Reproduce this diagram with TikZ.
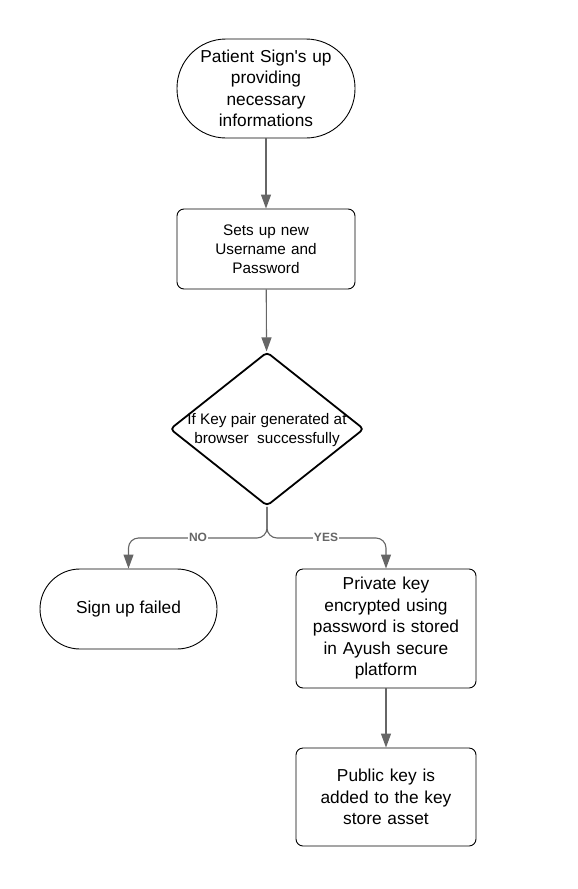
\documentclass[tikz,border=0pt]{standalone}
\usepackage{fontspec}
\setmainfont{Liberation Sans}
\usetikzlibrary{shapes.geometric,arrows.meta,calc}
\definecolor{conngray}{HTML}{666666}
\tikzset{
  box/.style={draw=black, line width=0.9pt, rounded corners=7pt, inner sep=0pt, align=center},
  stad/.style={draw=black, line width=0.9pt, inner sep=0pt, align=center},
  conn/.style={draw=conngray, line width=1.1pt, -{Triangle[width=10pt,length=14pt]}, color=conngray},
  lbl/.style={fill=white, inner sep=1pt, text=conngray, font=\fontsize{12}{14}\selectfont\bfseries},
  big/.style={font=\fontsize{17.3}{21.5}\selectfont},
  small/.style={font=\fontsize{15.3}{18.8}\selectfont}
}
\begin{document}
\begin{tikzpicture}[x=1pt,y=-1pt]
\useasboundingbox (0,0) rectangle (578,889);
\node[stad, big, rounded corners=49pt, minimum width=178pt, minimum height=99pt, text width=172pt] (top) at (266,88.5) {Patient Sign\textquotesingle s up\\providing\\necessary\\informations};
\node[box, small, minimum width=178pt, minimum height=80pt, text width=170pt] (setup) at (266,249) {Sets up new\\Username and\\Password};
\node[draw=black, diamond, line width=1.8pt, rounded corners=4pt, minimum width=194pt, minimum height=154pt, inner sep=0pt] (dec) at (267,429) {};
\node[small, align=center, inner sep=0pt] (dectext) at (267,430) {If Key pair generated at\\browser\ \ successfully};
\node[stad, big, rounded corners=40pt, minimum width=177pt, minimum height=80pt] (fail) at (128.5,609) {Sign up failed};
\node[box, big, minimum width=180pt, minimum height=119pt, text width=176pt] (priv) at (386,628.5) {Private key\\encrypted using\\password is stored\\in Ayush secure\\platform};
\node[box, big, minimum width=180pt, minimum height=98pt, text width=176pt] (pub) at (386,797) {Public key is\\added to the key\\store asset};
\coordinate (br) at (267,538);
\draw[conn] (top) -- (setup);
\draw[conn] (setup) -- (dec);
\draw[conn, rounded corners=10pt] (dec.south) |- (fail.north |- br) -- (fail.north);
\draw[conn, rounded corners=10pt] (dec.south) |- (priv.north |- br) -- (priv.north);
\draw[conn] (priv) -- (pub);
\node[lbl] (no) at (198,537.5) {NO};
\node[lbl] (yes) at (326,537.5) {YES};
\end{tikzpicture}
\end{document}
